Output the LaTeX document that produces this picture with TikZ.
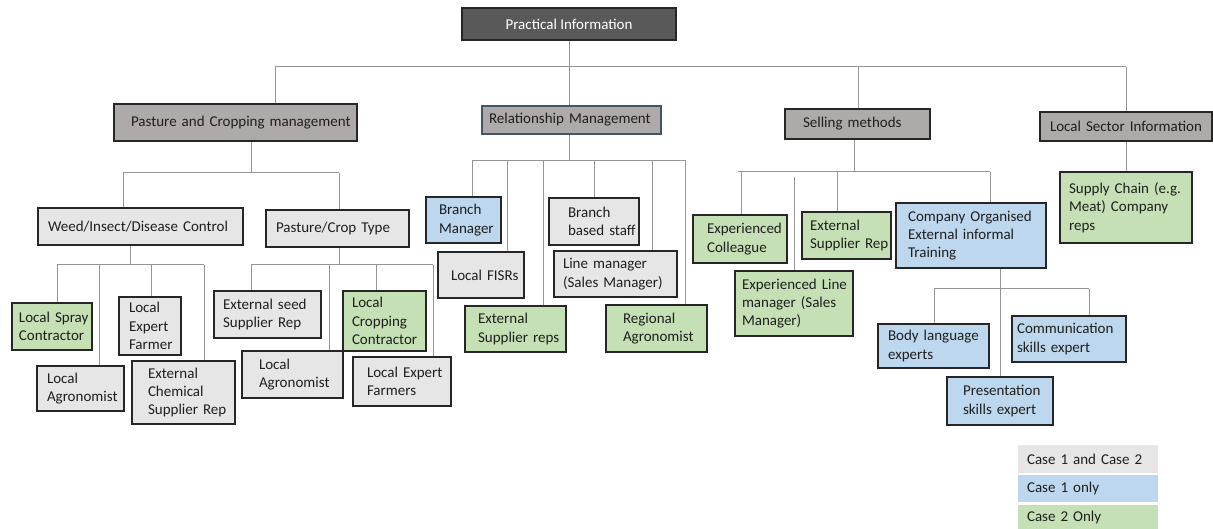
\documentclass[tikz,border=0pt]{standalone}
\usepackage{fontspec}
\setmainfont{Carlito}
\usetikzlibrary{backgrounds}
\definecolor{cdark}{RGB}{89,89,89}
\definecolor{cmid}{RGB}{174,170,170}
\definecolor{cgray}{RGB}{231,230,230}
\definecolor{cblue}{RGB}{189,215,238}
\definecolor{cgreen}{RGB}{197,224,180}
\definecolor{boxedge}{RGB}{38,38,38}
\definecolor{blueedge}{RGB}{68,84,106}
\definecolor{linegray}{RGB}{150,150,150}
\begin{document}
\begin{tikzpicture}[x=1pt,y=-1pt,
  box/.style={draw=boxedge, line width=1.4pt, rectangle, align=left,
    font=\fontsize{15}{18.3}\selectfont, text=black!88, inner ysep=0pt},
  % width of the box and left indent of its text
  bx/.style 2 args={minimum width=#1pt, text width=#1pt, inner xsep=0pt,
    execute at begin node={\leftskip=#2pt\hyphenpenalty=10000\relax}},
  ln/.style={draw=linegray, line width=1pt},
  legend/.style={rectangle, fill=#1, align=left, bx={140}{9}, inner ysep=0pt,
    font=\fontsize{15}{18.3}\selectfont, text=black!88}]
\useasboundingbox (0,0) rectangle (1213,529);

% ---------- junction points of the connector buses ----------
\coordinate (busL) at (275,67);    \coordinate (busR) at (1126,67);
\coordinate (busM) at (569,67);   \coordinate (busS) at (858,67);
\coordinate (pcmJ) at (251,173);  \coordinate (pcmL) at (123,173);  \coordinate (pcmR) at (339,173);
\coordinate (wdJ) at (130,265);   \coordinate (wdL) at (57,265);    \coordinate (wdR) at (204,265);
\coordinate (wd2) at (99,265);    \coordinate (wd3) at (151,265);
\coordinate (ptJ) at (339,265);   \coordinate (ptL) at (251,265);   \coordinate (ptR) at (433,265);
\coordinate (pt2) at (329,265);   \coordinate (pt3) at (376,265);
\coordinate (rmJ) at (569,161);   \coordinate (rmL) at (472,161);   \coordinate (rmR) at (686,161);
\coordinate (rm2) at (507,161);   \coordinate (rm3) at (543,161);   \coordinate (rm4) at (594,161);
\coordinate (rm5) at (652,161);   \coordinate (rm6) at (685,161);
\coordinate (smJ) at (854,172);   \coordinate (smL) at (738,172);   \coordinate (smR) at (990,172);
\coordinate (sm1) at (741,172);   \coordinate (sm2) at (794,177);   \coordinate (sm3) at (837,172);
\coordinate (coJ) at (1000,289);  \coordinate (coL) at (934,289);   \coordinate (coR) at (1089,289);

% ---------- boxes ----------
\node[box, fill=cdark, text=white, align=center, minimum width=214pt, minimum height=32pt] (top) at (569,24) {Practical Information};

\node[box, fill=cmid, minimum height=37pt, bx={243}{17}] (pcm) at (235.5,122.5) {Pasture and Cropping management};
\node[box, fill=cmid, draw=blueedge, minimum height=28pt, bx={179}{7}] (rm) at (571.5,120) {Relationship Management};
\node[box, fill=cmid, minimum height=30pt, bx={145}{18}] (sm) at (857.5,124) {Selling methods};
\node[box, fill=cmid, minimum height=29pt, bx={172}{10}] (lsi) at (1126,126.5) {Local Sector Information};

\node[box, fill=cgreen, minimum height=71pt, bx={132}{9}] (sc) at (1126,207.5) {Supply Chain (e.g.\\Meat) Company\\reps};

\node[box, fill=cgray, minimum height=37pt, bx={205}{10}] (weed) at (140.5,226.5) {Weed/Insect/Disease Control};
\node[box, fill=cgray, minimum height=37pt, bx={143}{10}] (pct) at (337.5,228.5) {Pasture/Crop Type};

\node[box, fill=cgreen, minimum height=47pt, bx={80}{7}] (lsc) at (52,326.5) {Local Spray\\Contractor};
\node[box, fill=cgray, minimum height=45pt, bx={87}{10}] (la1) at (80.5,388.5) {Local\\Agronomist};
\node[box, fill=cgray, minimum height=58pt, bx={62}{10}] (lef) at (150,326) {Local\\Expert\\Farmer};
\node[box, fill=cgray, minimum height=63pt, bx={103}{16}] (ecs) at (183.5,392.5) {External\\Chemical\\Supplier Rep};

\node[box, fill=cgray, minimum height=47pt, bx={107}{9}] (esr) at (267.5,314.5) {External seed\\Supplier Rep};
\node[box, fill=cgray, minimum height=47pt, bx={101}{17}] (la2) at (292.5,374.5) {Local\\Agronomist};
\node[box, fill=cgreen, minimum height=60pt, bx={83}{9}] (lcc) at (384.5,321) {Local\\Cropping\\Contractor};
\node[box, fill=cgray, minimum height=49pt, bx={98}{14}] (lefs) at (402,381.5) {Local Expert\\Farmers};

\node[box, fill=cblue, minimum height=46pt, bx={75}{13}] (bm) at (463.5,220) {Branch\\Manager};
\node[box, fill=cgray, minimum height=46pt, bx={86}{13}] (fisr) at (481,275) {Local FISRs};
\node[box, fill=cgreen, minimum height=46pt, bx={101}{13}] (esreps) at (515.5,329) {External\\Supplier reps};
\node[box, fill=cgray, minimum height=47pt, bx={90}{19}] (bbs) at (594,221.5) {Branch\\based staff};
\node[box, fill=cgray, minimum height=46pt, bx={123}{9}] (lm) at (615.5,274) {Line manager\\(Sales Manager)};
\node[box, fill=cgreen, minimum height=47pt, bx={101}{17}] (ra) at (656.5,328.5) {Regional\\Agronomist};

\node[box, fill=cgreen, minimum height=48pt, bx={94}{14}] (ec) at (740,239) {Experienced\\Colleague};
\node[box, fill=cgreen, minimum height=65pt, bx={118}{7}] (elm) at (794,303.5) {Experienced Line\\manager (Sales\\Manager)};
\node[box, fill=cgreen, minimum height=47pt, bx={89}{8}] (esrep) at (846.5,235.5) {External\\Supplier Rep};
\node[box, fill=cblue, minimum height=65pt, bx={150}{12}] (coet) at (971,235.5) {Company Organised\\External informal\\Training};

\node[box, fill=cblue, minimum height=44pt, bx={111}{10}] (ble) at (933.5,346) {Body language\\experts};
\node[box, fill=cblue, minimum height=46pt, bx={114}{5}] (cse) at (1069,339) {Communication\\skills expert};
\node[box, fill=cblue, minimum height=48pt, bx={106}{16}] (pse) at (1000,401) {Presentation\\skills expert};

% ---------- legend ----------
\node[legend=cgray, minimum height=28pt] (leg1) at (1088,459) {Case 1 and Case 2};
\node[legend=cblue, minimum height=27pt] (leg2) at (1088,488.5) {Case 1 only};
\node[legend=cgreen, minimum height=24pt] (leg3) at (1088,517) {Case 2 Only};

% ---------- connectors (drawn behind the boxes) ----------
\begin{scope}[on background layer]
  % first level
  \draw[ln] (top.south) -- (top.south |- rm.north);
  \draw[ln] (busL) -- (busR);
  \draw[ln] (busL) -- (busL |- pcm.north);
  \draw[ln] (busS) -- (busS |- sm.north);
  \draw[ln] (busR) -- (busR |- lsi.north);
  % pasture and cropping
  \draw[ln] (pcmJ |- pcm.south) -- (pcmJ);
  \draw[ln] (pcmL) -- (pcmR);
  \draw[ln] (pcmL) -- (pcmL |- weed.north);
  \draw[ln] (pcmR) -- (pcmR |- pct.north);
  % weed / insect / disease control
  \draw[ln] (wdJ |- weed.south) -- (wdJ);
  \draw[ln] (wdL) -- (wdR);
  \draw[ln] (wdL) -- (wdL |- lsc.north);
  \draw[ln] (wd2) -- (wd2 |- la1.north);
  \draw[ln] (wd3) -- (wd3 |- lef.north);
  \draw[ln] (wdR) -- (wdR |- ecs.north);
  % pasture / crop type
  \draw[ln] (ptJ |- pct.south) -- (ptJ);
  \draw[ln] (ptL) -- (ptR);
  \draw[ln] (ptL) -- (ptL |- esr.north);
  \draw[ln] (pt2) -- (pt2 |- la2.north);
  \draw[ln] (pt3) -- (pt3 |- lcc.north);
  \draw[ln] (ptR) -- (ptR |- lefs.north);
  % relationship management
  \draw[ln] (rmJ |- rm.south) -- (rmJ);
  \draw[ln] (rmL) -- (rmR);
  \draw[ln] (rmL) -- (rmL |- bm.north);
  \draw[ln] (rm2) -- (rm2 |- fisr.north);
  \draw[ln] (rm3) -- (rm3 |- esreps.north);
  \draw[ln] (rm4) -- (rm4 |- bbs.north);
  \draw[ln] (rm5) -- (rm5 |- lm.north);
  \draw[ln] (rm6) -- (rm6 |- ra.north);
  % selling methods
  \draw[ln] (smJ |- sm.south) -- (smJ);
  \draw[ln] (smL) -- (smR);
  \draw[ln] (sm1) -- (sm1 |- ec.north);
  \draw[ln] (sm2) -- (sm2 |- elm.north);
  \draw[ln] (sm3) -- (sm3 |- esrep.north);
  \draw[ln] (smR) -- (smR |- coet.north);
  % local sector information
  \draw[ln] (lsi.south) -- (lsi.south |- sc.north);
  % company organised training
  \draw[ln] (coJ |- coet.south) -- (coJ |- pse.north);
  \draw[ln] (coL) -- (coR);
  \draw[ln] (coL) -- (coL |- ble.north);
  \draw[ln] (coR) -- (coR |- cse.north);
\end{scope}
\end{tikzpicture}
\end{document}
